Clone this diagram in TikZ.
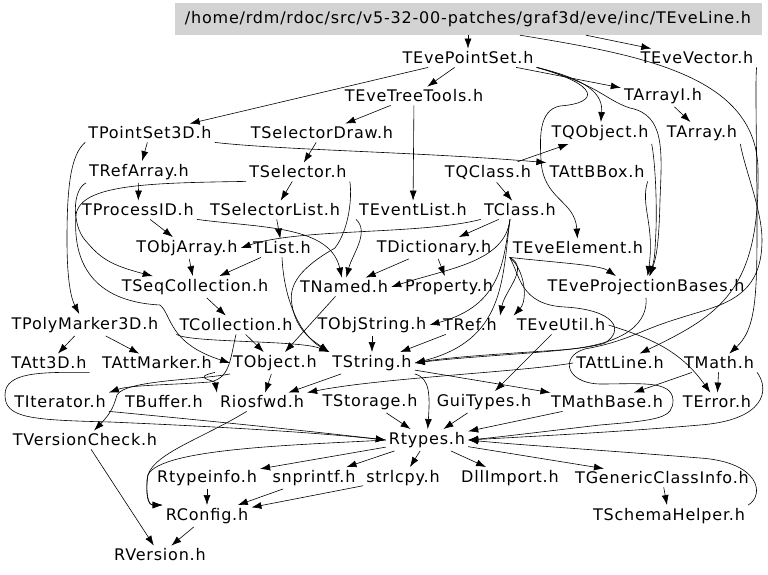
\documentclass[tikz,border=0pt]{standalone}
\usepackage{fontspec}
\setmainfont{DejaVu Sans}[LetterSpace=5]
\usepackage{tikz}
\usetikzlibrary{arrows.meta}
\definecolor{boxgray}{HTML}{D3D3D3}
\tikzset{hdr/.style={font=\fontsize{16}{19}\selectfont, inner sep=3pt},
  srcfile/.style={hdr, fill=boxgray, minimum width=587pt, minimum height=32pt},
  inc/.style={-{Latex[length=10pt,width=7pt]}, line width=0.6pt}}

\begin{document}
\begin{tikzpicture}[x=1pt,y=-1pt]
\useasboundingbox (0,0) rectangle (768,575);
\node[srcfile] (src) at (468,19) {/home/rdm/rdoc/src/v5-32-00-patches/graf3d/eve/inc/TEveLine.h};
% row by row
\node[hdr] (pset) at (468,58) {TEvePointSet.h};
\node[hdr] (vec) at (697,58) {TEveVector.h};
\node[hdr] (tree) at (414,96) {TEveTreeTools.h};
\node[hdr] (arri) at (663,96) {TArrayI.h};
\node[hdr] (p3d) at (150,133) {TPointSet3D.h};
\node[hdr] (seldraw) at (322,133) {TSelectorDraw.h};
\node[hdr] (qobj) at (600,133) {TQObject.h};
\node[hdr] (arr) at (702,133) {TArray.h};
\node[hdr] (refarr) at (139,172) {TRefArray.h};
\node[hdr] (sel) at (298,172) {TSelector.h};
\node[hdr] (qclass) at (488,172) {TQClass.h};
\node[hdr] (attbbox) at (597,172) {TAttBBox.h};
\node[hdr] (pid) at (138,210) {TProcessID.h};
\node[hdr] (sellist) at (275,210) {TSelectorList.h};
\node[hdr] (evlist) at (413,210) {TEventList.h};
\node[hdr] (clss) at (520,210) {TClass.h};
\node[hdr] (objarr) at (187,248) {TObjArray.h};
\node[hdr] (list) at (282,248) {TList.h};
\node[hdr] (dict) at (434,248) {TDictionary.h};
\node[hdr] (eveel) at (578,248) {TEveElement.h};
\node[hdr] (seqcoll) at (195,287) {TSeqCollection.h};
\node[hdr] (named) at (344,287) {TNamed.h};
\node[hdr] (property) at (449,287) {Property.h};
\node[hdr] (projbases) at (646,287) {TEveProjectionBases.h};
\node[hdr] (pm3d) at (85,325) {TPolyMarker3D.h};
\node[hdr] (coll) at (236,325) {TCollection.h};
\node[hdr] (objstr) at (372,325) {TObjString.h};
\node[hdr] (ref) at (470,325) {TRef.h};
\node[hdr] (eveutil) at (561,325) {TEveUtil.h};
\node[hdr] (att3d) at (49,363) {TAtt3D.h};
\node[hdr] (attmark) at (157,363) {TAttMarker.h};
\node[hdr] (object) at (275,363) {TObject.h};
\node[hdr] (string) at (372,363) {TString.h};
\node[hdr] (attline) at (620,363) {TAttLine.h};
\node[hdr] (math) at (719,363) {TMath.h};
\node[hdr] (iterator) at (60,402) {TIterator.h};
\node[hdr] (buffer) at (164,402) {TBuffer.h};
\node[hdr] (riosfwd) at (262,402) {Riosfwd.h};
\node[hdr] (storage) at (370,402) {TStorage.h};
\node[hdr] (guitypes) at (484,402) {GuiTypes.h};
\node[hdr] (mathbase) at (607,402) {TMathBase.h};
\node[hdr] (error) at (717,402) {TError.h};
\node[hdr] (vcheck) at (85,440) {TVersionCheck.h};
\node[hdr] (rtypes) at (427,440) {Rtypes.h};
\node[hdr] (rtypeinfo) at (207,478) {Rtypeinfo.h};
\node[hdr] (snprintf) at (314,478) {snprintf.h};
\node[hdr] (strlcpy) at (403,478) {strlcpy.h};
\node[hdr] (dll) at (510,478) {DllImport.h};
\node[hdr] (genci) at (662,478) {TGenericClassInfo.h};
\node[hdr] (rconfig) at (207,516) {RConfig.h};
\node[hdr] (schema) at (669,516) {TSchemaHelper.h};
\node[hdr] (rversion) at (160,555) {RVersion.h};

% straight includes
\foreach \a/\b in {src/pset, pset/p3d, pset/tree, pset/arri, tree/evlist,
    tree/seldraw, arri/arr, p3d/refarr, seldraw/sel, qclass/qobj, qclass/clss,
    refarr/pid, sel/sellist, pid/objarr, sellist/list, clss/dict, objarr/seqcoll,
    list/seqcoll, dict/named, dict/property, seqcoll/coll, pm3d/att3d, pm3d/attmark,
    coll/object, named/object, objstr/string, ref/string, object/riosfwd,
    string/riosfwd, string/mathbase, eveutil/guitypes, math/error, math/mathbase,
    storage/rtypes, guitypes/rtypes, mathbase/rtypes, rtypes/rtypeinfo,
    rtypes/snprintf, rtypes/strlcpy, rtypes/dll, rtypes/genci, genci/schema,
    rtypeinfo/rconfig, snprintf/rconfig, strlcpy/rconfig, rconfig/rversion,
    vcheck/rversion}
  \draw[inc] (\a) -- (\b);

% routed includes
\draw[inc] ([xshift=118pt]src.south) -- (vec);
\draw[inc] ([xshift=52pt]src.south) .. controls (640,55) and (757,75) .. (758,170)
  .. controls (760,290) and (720,315) .. (attline);
\draw[inc] (pset.south east) .. controls (590,80) and (603,95) .. (qobj);
\draw[inc] (pset.south east) .. controls (600,85) and (600,103) .. (560,106)
  .. controls (538,110) and (540,140) .. (541,160) .. controls (543,200) and (575,200) .. (eveel);
\draw[inc] (pset.south east) .. controls (600,85) and (605,100) .. (630,108)
  .. controls (665,115) and (662,150) .. (660,200) .. controls (659,240) and (657,255) .. (projbases);
\draw[inc] (qobj.south east) .. controls (655,160) and (657,200) .. (656,230)
  .. controls (655,250) and (655,258) .. (projbases);
\draw[inc] (attbbox.south east) .. controls (640,205) and (655,225) .. (projbases);
\draw[inc] (vec.south east) .. controls (755,85) and (757,150) .. (757,230)
  .. controls (757,300) and (755,330) .. (math);
\draw[inc] (arr.south east) .. controls (745,170) and (762,210) .. (762,240)
  .. controls (762,300) and (720,305) .. (680,318) .. controls (640,330) and (630,340) .. (590,348)
  .. controls (560,352) and (562,383) .. (600,384) .. controls (640,384) and (672,380) .. (673,400)
  .. controls (673,418) and (660,420) .. (600,425) .. controls (540,432) and (500,437) .. (rtypes.east);
\draw[inc] (p3d.south west) .. controls (70,155) and (67,190) .. (67,240)
  .. controls (67,285) and (72,300) .. (pm3d);
\draw[inc] (p3d.south east) .. controls (280,150) and (420,152) .. (attbbox.north west);
\draw[inc] (refarr.south west) .. controls (72,190) and (72,225) .. (85,240)
  .. controls (100,258) and (110,265) .. (seqcoll);
\draw[inc] (sel.south west) .. controls (150,183) and (80,184) .. (76,215)
  .. controls (72,270) and (100,302) .. (160,305) .. controls (172,315) and (168,343) .. (object.west);
\draw[inc] (sel.south east) .. controls (352,195) and (350,228) .. (335,248)
  .. controls (300,268) and (288,285) .. (292,305) .. controls (296,330) and (312,340) .. (string.north west);
\draw[inc] (list.south) .. controls (284,300) and (300,335) .. (string.north west);
\draw[inc] (coll.south west) .. controls (190,343) and (300,340) .. (string.north west);
\draw[inc] (pid.south east) .. controls (260,228) and (330,225) .. (named);
\draw[inc] (evlist.south west) .. controls (370,232) and (352,255) .. (named);
\draw[inc] (clss.south west) .. controls (420,235) and (300,228) .. (objarr.east);
\draw[inc] ([xshift=-10pt]clss.south) .. controls (505,262) and (450,268) .. (named.east);
\draw[inc] ([xshift=-10pt]clss.south) .. controls (503,260) and (503,305) .. (objstr.east);
\draw[inc] ([xshift=-10pt]clss.south) .. controls (502,280) and (505,340) .. (string.east);
\draw[inc] (eveel.south west) .. controls (530,268) and (505,290) .. (ref.north east);
\draw[inc] (eveel.south west) .. controls (525,270) and (528,300) .. (eveutil.north west);
\draw[inc] (eveel.south west) .. controls (560,263) and (600,265) .. ([xshift=-30pt]projbases.north);
\draw[inc] (eveel.south west) .. controls (520,275) and (520,305) .. (565,307)
  .. controls (615,310) and (625,330) .. (605,343) .. controls (580,352) and (480,355) .. (string.east);
\draw[inc] (projbases.south) .. controls (648,320) and (630,345) .. (560,350)
  .. controls (500,354) and (450,357) .. (string.east);
\draw[inc] (eveutil.east) .. controls (650,338) and (680,350) .. (error);
\draw[inc] (attline.west) .. controls (520,372) and (380,378) .. (riosfwd.north east);
\draw[inc] (string.south east) .. controls (430,378) and (430,395) .. (rtypes);
\draw[inc] (math.south east) .. controls (770,390) and (765,420) .. (700,425)
  .. controls (620,432) and (520,437) .. (rtypes.east);
\draw[inc] (schema.north east) .. controls (765,495) and (760,462) .. (700,458)
  .. controls (600,450) and (520,445) .. (rtypes.east);
\draw[inc] (coll.south) .. controls (230,360) and (230,378) .. (210,382)
  .. controls (170,385) and (130,385) .. (iterator.north east);
\draw[inc] (attmark.south east) .. controls (190,378) and (215,380) .. (riosfwd.north west);
\draw[inc] (object.south west) .. controls (200,380) and (125,380) .. (117,395)
  .. controls (114,405) and (112,412) .. (vcheck);
\draw[inc] (att3d.south east) .. controls (40,372) and (5,372) .. (5,395)
  .. controls (5,418) and (30,420) .. (110,422) .. controls (250,428) and (330,434) .. (rtypes.west);
\draw[inc] (iterator.south east) .. controls (200,420) and (300,430) .. (rtypes.west);
\draw[inc] (rtypes.west) .. controls (300,445) and (160,448) .. (148,475)
  .. controls (145,495) and (148,505) .. (rconfig.north west);
\draw[inc] (riosfwd) .. controls (200,440) and (148,455) .. (147,480)
  .. controls (146,500) and (150,505) .. (rconfig.north west);
\end{tikzpicture}
\end{document}
